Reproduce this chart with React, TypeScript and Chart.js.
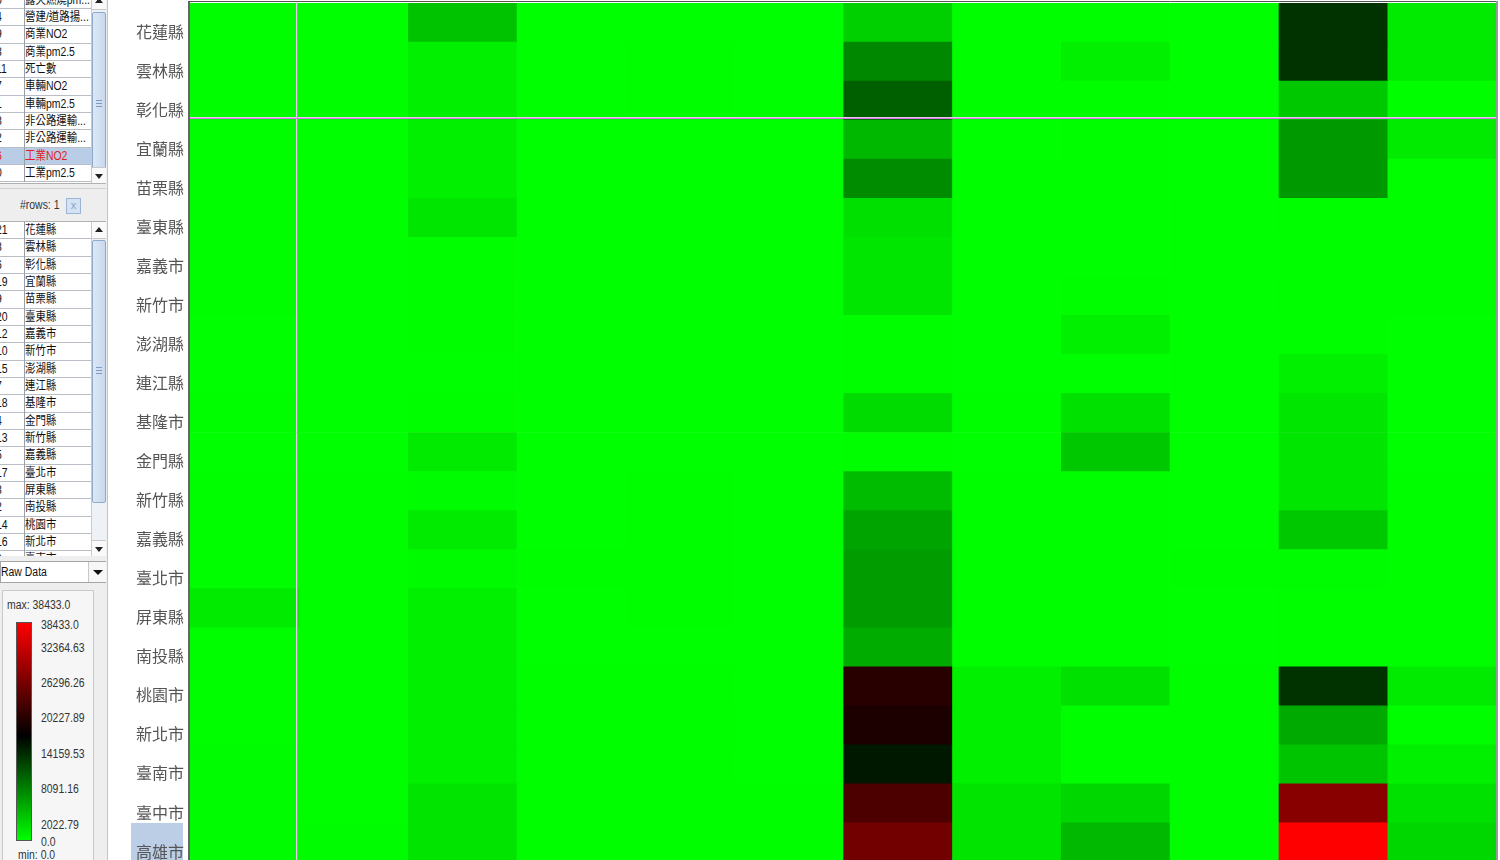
import React, { useEffect, useRef } from 'react';
import { Chart, registerables } from 'chart.js';

Chart.register(...registerables);

// ---------- data ----------
const counties = [
  '花蓮縣', '雲林縣', '彰化縣', '宜蘭縣', '苗栗縣', '臺東縣', '嘉義市', '新竹市', '澎湖縣', '連江縣', '基隆市',
  '金門縣', '新竹縣', '嘉義縣', '臺北市', '屏東縣', '南投縣', '桃園市', '新北市', '臺南市', '臺中市', '高雄市',
];

const variables = [
  '工業pm2.5', '車輛pm2.5', '非公路運輸pm2.5', '商業pm2.5', '營建/道路揚塵pm2.5', '露天燃燒pm2.5',
  '工業NO2', '車輛NO2', '非公路運輸NO2', '商業NO2', '露天燃燒NO2', '死亡數',
];

const industryPm25 = [110, 95, 160, 80, 130, 60, 40, 70, 20, 10, 50, 30, 140, 150, 120, 1500, 100, 180, 170, 190, 210, 230];
const vehiclePm25 = [20, 60, 70, 30, 40, 25, 30, 35, 10, 5, 30, 10, 60, 50, 90, 60, 40, 150, 160, 120, 180, 200];
const offroadPm25 = [4500, 1100, 1100, 1100, 1100, 1900, 150, 100, 40, 20, 120, 1500, 200, 1500, 300, 1100, 1100, 1100, 1100, 1100, 2000, 2000];
const commercePm25 = [10, 20, 30, 15, 20, 10, 15, 20, 5, 2, 15, 5, 25, 20, 60, 30, 20, 80, 90, 70, 90, 100];
const constructionPm25 = [30, 40, 50, 20, 30, 15, 20, 25, 5, 3, 20, 8, 40, 45, 70, 50, 30, 110, 120, 100, 130, 140];
const openBurnPm25 = [5, 10, 12, 6, 8, 4, 3, 4, 1, 1, 3, 2, 8, 10, 20, 12, 7, 30, 35, 28, 40, 45];
const industryNO2 = [3540, 8970, 11980, 5350, 8670, 2340, 1880, 1880, 100, 50, 2640, 150, 5050, 6860, 7460, 7460, 6260, 22230, 21330, 17410, 25020, 27880];
const vehicleNO2 = [50, 40, 60, 30, 40, 20, 30, 30, 10, 5, 40, 10, 60, 60, 80, 70, 40, 1100, 1100, 1100, 2000, 2000];
const offroadNO2 = [80, 1100, 60, 40, 50, 20, 30, 40, 1100, 10, 2260, 4150, 70, 60, 90, 80, 50, 2260, 150, 160, 3000, 5300];
const commerceNO2 = [15, 25, 35, 20, 25, 12, 18, 22, 6, 3, 18, 6, 30, 25, 70, 35, 25, 90, 100, 80, 100, 120];
const openBurnNO2 = [15370, 15370, 4150, 7690, 7690, 150, 100, 120, 90, 1100, 1900, 1900, 1900, 4150, 200, 180, 120, 15370, 6410, 4450, 29470, 38433];
const deaths = [1500, 1500, 100, 1500, 80, 60, 50, 40, 20, 10, 30, 20, 60, 70, 90, 80, 60, 1500, 150, 1100, 2260, 3000];

const columns = [
  industryPm25, vehiclePm25, offroadPm25, commercePm25, constructionPm25, openBurnPm25,
  industryNO2, vehicleNO2, offroadNO2, commerceNO2, openBurnNO2, deaths,
];

const legendMax = 38433.0;
const legendMin = 0.0;
const legendTicks = ['38433.0', '32364.63', '26296.26', '20227.89', '14159.53', '8091.16', '2022.79', '0.0'];

const variableList = [
  { idx: '5', name: '露天燃燒pm...' },
  { idx: '4', name: '營建/道路揚...' },
  { idx: '9', name: '商業NO2' },
  { idx: '3', name: '商業pm2.5' },
  { idx: '11', name: ' 死亡數' },
  { idx: '7', name: '車輛NO2' },
  { idx: '1', name: '車輛pm2.5' },
  { idx: '8', name: '非公路運輸...' },
  { idx: '2', name: '非公路運輸...' },
  { idx: '6', name: '工業NO2' },
  { idx: '0', name: '工業pm2.5' },
];
const countyListIdx = ['21', '8', '6', '19', '9', '20', '12', '10', '15', '7', '18', '4', '13', '5', '17', '3', '2', '14', '16', '0'];

const selectedCounty = '高雄市';

// ---------- helpers ----------
function heatColor(v: number): string {
  const mid = (legendMax + legendMin) / 2;
  if (v <= mid) {
    const g = Math.round(255 * (1 - (v - legendMin) / (mid - legendMin)));
    return `rgb(0,${g},0)`;
  }
  const r = Math.round(255 * ((v - mid) / (legendMax - mid)));
  return `rgb(${r},0,0)`;
}

const uiFont = "'Liberation Sans', 'Noto Sans CJK TC', sans-serif";
const cjkFont = "'Liberation Sans', 'Noto Sans CJK TC', sans-serif";
const ROW_H = 17.33;

const abs = (s: React.CSSProperties): React.CSSProperties => ({ position: 'absolute', ...s });
const narrow: React.CSSProperties = { transform: 'scaleX(0.87)', transformOrigin: 'left center', whiteSpace: 'nowrap' };

function ScrollBar({ top, height, thumbTop, thumbH, gripY, btnOffset = 0 }: { top: number; height: number; thumbTop: number; thumbH: number; gripY: number; btnOffset?: number }) {
  return (
    <div style={abs({ left: 91, top, width: 15, height, background: '#eef1f5', borderLeft: '1px solid #c8ccd2', overflow: 'hidden' })}>
      <div style={abs({ left: 0, top: btnOffset, width: 14, height: 16, background: '#fafafa', borderBottom: '1px solid #c8c8c8' })}>
        <div style={abs({ left: 3, top: 5, width: 0, height: 0, borderLeft: '4px solid transparent', borderRight: '4px solid transparent', borderBottom: '5px solid #222' })} />
      </div>
      <div style={abs({ left: 0, top: thumbTop, width: 12, height: thumbH, background: 'linear-gradient(to right, #dde8f5, #c7d8ee)', border: '1px solid #8eaacb', borderRadius: 2 })}>
        <div style={abs({ left: 3, top: gripY - thumbTop - 4, width: 6, height: 1, background: '#7f9cc0' })} />
        <div style={abs({ left: 3, top: gripY - thumbTop - 1, width: 6, height: 1, background: '#7f9cc0' })} />
        <div style={abs({ left: 3, top: gripY - thumbTop + 2, width: 6, height: 1, background: '#7f9cc0' })} />
      </div>
      <div style={abs({ left: 0, top: height - 16, width: 14, height: 16, background: '#fafafa', borderTop: '1px solid #c8c8c8' })}>
        <div style={abs({ left: 3, top: 6, width: 0, height: 0, borderLeft: '4px solid transparent', borderRight: '4px solid transparent', borderTop: '5px solid #222' })} />
      </div>
    </div>
  );
}

function ListRows({ items, firstTop, selectedIndex }: { items: { idx: string; name: string }[]; firstTop: number; selectedIndex: number }) {
  return (
    <>
      {items.map((it, i) => {
        const sel = i === selectedIndex;
        return (
          <div key={i} style={abs({ left: 0, top: firstTop + i * ROW_H, width: 91, height: ROW_H, boxSizing: 'border-box', borderBottom: '1px solid #b9bec6', background: sel ? '#b9cde6' : '#ffffff' })}>
            <div style={abs({ left: -4, top: 0, lineHeight: ROW_H + 'px', fontSize: 12, fontFamily: uiFont, color: sel ? '#e02020' : '#111', ...narrow })}>{it.idx}</div>
            <div style={abs({ left: 24, top: 0, width: 1, height: ROW_H, background: '#9aa0a8' })} />
            <div style={abs({ left: 25, top: 0, lineHeight: ROW_H + 'px', fontSize: 12, fontFamily: cjkFont, color: sel ? '#e02020' : '#111', ...narrow })}>{it.name}</div>
          </div>
        );
      })}
    </>
  );
}

function SidePanel() {
  const countyItems = countyListIdx.map((idx, i) => ({ idx, name: i < 19 ? counties[i] : '臺南市' }));
  return (
    <div style={abs({ left: 0, top: 0, width: 107, height: 860, background: '#eeeeee', borderRight: '1px solid #c4c4c4', overflow: 'hidden' })}>
      {/* variable list */}
      <div style={abs({ left: 0, top: 0, width: 106, height: 183, background: '#fff', overflow: 'hidden', borderBottom: '1px solid #b0b0b0' })}>
        <ListRows items={variableList} firstTop={9 - ROW_H} selectedIndex={9} />
        <ScrollBar top={0} height={183} thumbTop={12} thumbH={200} gripY={103} btnOffset={-7} />
      </div>
      <div style={abs({ left: 0, top: 188, width: 106, height: 1, background: '#d0d0d0' })} />
      <div style={abs({ left: 20, top: 197, fontSize: 12, fontFamily: uiFont, color: '#333', lineHeight: '16px', ...narrow })}>#rows: 1</div>
      <div style={abs({ left: 66, top: 198, width: 13, height: 14, background: '#d3e2f4', border: '1px solid #9db5d3', color: '#8aa3c4', fontSize: 11, lineHeight: '13px', textAlign: 'center', fontFamily: uiFont })}>x</div>
      {/* county list */}
      <div style={abs({ left: 0, top: 221, width: 106, height: 334, background: '#fff', overflow: 'hidden', borderTop: '1px solid #b0b0b0' })}>
        <ListRows items={countyItems} firstTop={0} selectedIndex={-1} />
        <ScrollBar top={0} height={334} thumbTop={18} thumbH={261} gripY={148} />
      </div>
      {/* combo */}
      <div style={abs({ left: 0, top: 561, width: 104, height: 20, background: '#fff', border: '1px solid #a5a5a5' })}>
        <div style={abs({ left: 0, top: 0, lineHeight: '20px', fontSize: 12, fontFamily: uiFont, color: '#111', ...narrow })}>Raw Data</div>
        <div style={abs({ left: 87, top: 0, width: 17, height: 20, borderLeft: '1px solid #c8c8c8', background: '#f7f7f7' })}>
          <div style={abs({ left: 4, top: 8, width: 0, height: 0, borderLeft: '5px solid transparent', borderRight: '5px solid transparent', borderTop: '5px solid #111' })} />
        </div>
      </div>
      {/* legend */}
      <div style={abs({ left: 2, top: 590, width: 90, height: 280, background: '#f6f6f6', border: '1px solid #c9c9c9' })} />
      <div style={abs({ left: 7, top: 597, fontSize: 12, fontFamily: uiFont, color: '#333', lineHeight: '16px', ...narrow })}>max: {legendMax.toFixed(1)}</div>
      <div style={abs({ left: 16, top: 622, width: 14, height: 217, border: '1.5px solid #555', background: 'linear-gradient(to bottom, #ff0000 0%, #000000 52%, #00ff00 100%)' })} />
      {legendTicks.map((t, i) => {
        const ys = [625, 648, 683, 718, 754, 789, 825, 842];
        return (
          <div key={t} style={abs({ left: 41, top: ys[i] - 8, fontSize: 12, fontFamily: uiFont, color: '#333', lineHeight: '16px', ...narrow })}>{t}</div>
        );
      })}
      <div style={abs({ left: 18, top: 847, fontSize: 12, fontFamily: uiFont, color: '#333', lineHeight: '16px', ...narrow })}>min: {legendMin.toFixed(1)}</div>
    </div>
  );
}

const decorPlugin = {
  id: 'decor',
  beforeDraw(chart: any) {
    const { ctx, chartArea } = chart;
    const y = chart.scales.y;
    const idx = counties.indexOf(selectedCounty);
    const rowH = (chartArea.bottom - chartArea.top) / counties.length;
    const cy = y.getPixelForValue(idx);
    ctx.save();
    ctx.fillStyle = '#bccee6';
    ctx.fillRect(23, cy - rowH / 2, 52, rowH);
    ctx.restore();
  },
  afterDraw(chart: any) {
    const { ctx, chartArea } = chart;
    const x = chart.scales.x;
    const y = chart.scales.y;
    ctx.save();
    // crosshair lines
    const hy = Math.round((y.getPixelForValue(2) + y.getPixelForValue(3)) / 2) - 2;
    const vx = Math.round(x.getPixelForValue(1)) - 2;
    ctx.lineWidth = 1;
    ctx.strokeStyle = '#ecc6f0';
    ctx.beginPath();
    ctx.moveTo(chartArea.left, hy - 0.5);
    ctx.lineTo(chartArea.right, hy - 0.5);
    ctx.moveTo(vx - 0.5, chartArea.top);
    ctx.lineTo(vx - 0.5, chartArea.bottom);
    ctx.stroke();
    ctx.strokeStyle = '#d679e0';
    ctx.beginPath();
    ctx.moveTo(chartArea.left, hy + 0.5);
    ctx.lineTo(chartArea.right, hy + 0.5);
    ctx.moveTo(vx + 0.5, chartArea.top);
    ctx.lineTo(vx + 0.5, chartArea.bottom);
    ctx.stroke();
    // borders
    ctx.strokeStyle = '#666';
    ctx.lineWidth = 2;
    ctx.beginPath();
    ctx.moveTo(chartArea.left - 1, 1);
    ctx.lineTo(chartArea.left - 1, chartArea.bottom);
    ctx.stroke();
    ctx.strokeStyle = '#555';
    ctx.lineWidth = 1;
    ctx.beginPath();
    ctx.moveTo(chartArea.left - 2, 1.5);
    ctx.lineTo(chartArea.right + 2, 1.5);
    ctx.stroke();
    ctx.strokeStyle = '#999';
    ctx.lineWidth = 2;
    ctx.beginPath();
    ctx.moveTo(chartArea.right + 1, 1);
    ctx.lineTo(chartArea.right + 1, chartArea.bottom);
    ctx.stroke();
    ctx.restore();
  },
};

function HeatMap() {
  const ref = useRef<HTMLCanvasElement | null>(null);
  useEffect(() => {
    if (!ref.current) return;
    const datasets = columns.map((vals, c) => ({
      label: variables[c],
      data: counties.map(() => [c, c + 1]),
      backgroundColor: vals.map(heatColor),
      borderWidth: 0,
      barPercentage: 1,
      categoryPercentage: 1,
      grouped: false,
    }));
    const chart = new Chart(ref.current, {
      type: 'bar',
      data: { labels: counties, datasets: datasets as any },
      options: {
        indexAxis: 'y',
        responsive: false,
        animation: false,
        events: [],
        layout: { padding: { top: 3, right: 4, bottom: 4, left: 0 } },
        plugins: { legend: { display: false }, tooltip: { enabled: false } },
        scales: {
          x: { type: 'linear', min: 0, max: columns.length, display: false },
          y: {
            type: 'category',
            offset: true,
            grid: { display: false, drawTicks: false },
            border: { display: false },
            ticks: {
              autoSkip: false,
              padding: 6,
              labelOffset: 9,
              color: '#555',
              font: { family: "'Noto Sans CJK TC', sans-serif", size: 16 },
            },
            afterFit(scale: any) {
              scale.width = 82;
              scale.paddingTop = 0;
              scale.paddingBottom = 0;
            },
          },
        },
      },
      plugins: [decorPlugin],
    });
    return () => chart.destroy();
  }, []);
  return <canvas ref={ref} width={1392} height={866} style={abs({ left: 108, top: 0, width: 1392, height: 866 })} />;
}

export default function App() {
  return (
    <div style={{ position: 'fixed', left: 0, top: 0, width: 1500, height: 860, overflow: 'hidden', background: '#fff' }}>
      <HeatMap />
      <SidePanel />
    </div>
  );
}
